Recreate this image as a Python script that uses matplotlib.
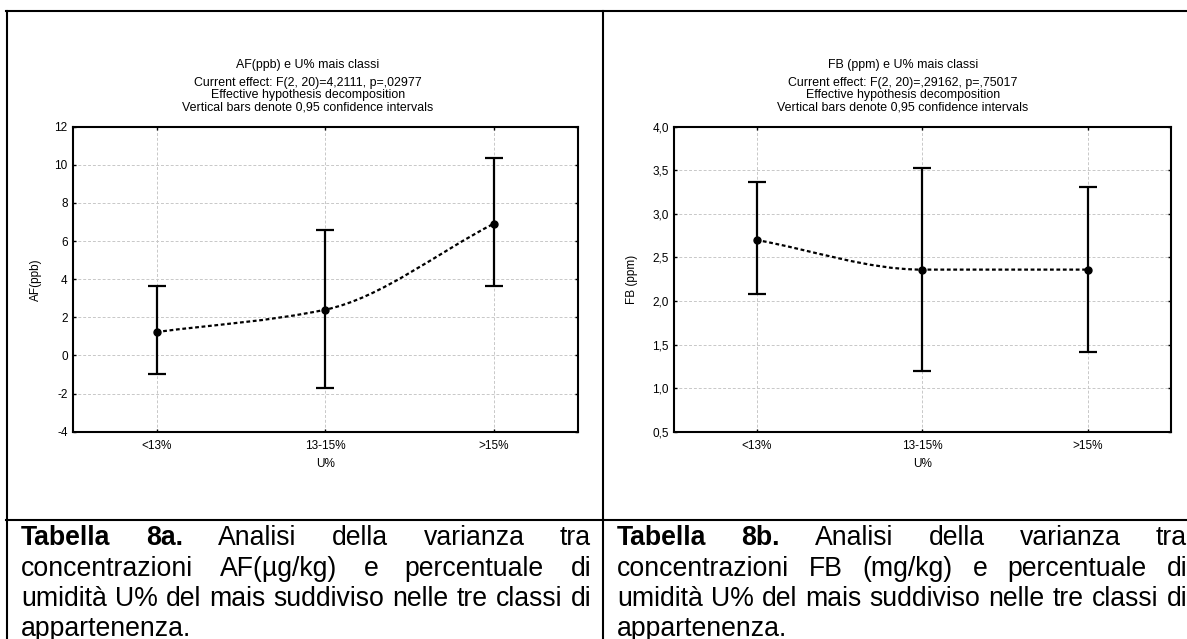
import matplotlib
matplotlib.use('Agg')
import matplotlib.pyplot as plt
from matplotlib.path import Path
from matplotlib.patches import PathPatch
from matplotlib.lines import Line2D
from matplotlib.ticker import FuncFormatter, MultipleLocator

plt.rcParams['font.family'] = ['Liberation Sans', 'DejaVu Sans']

W, H = 1187, 639

# classi di umidità
classes = ['<13%', '13-15%', '>15%']

# AF (ppb): medie e limiti dell'intervallo di confidenza 0,95
af_mean = [1.23, 2.40, 6.91]
af_low = [-0.97, -1.73, 3.62]
af_high = [3.62, 6.56, 10.34]

# FB (ppm): medie e limiti dell'intervallo di confidenza 0,95
fb_mean = [2.70, 2.36, 2.36]
fb_low = [2.08, 1.20, 1.41]
fb_high = [3.36, 3.53, 3.31]

af_title = ['AF(ppb) e U% mais classi',
            'Current effect: F(2, 20)=4,2111, p=,02977',
            'Effective hypothesis decomposition',
            'Vertical bars denote 0,95 confidence intervals']
fb_title = ['FB (ppm) e U% mais classi',
            'Current effect: F(2, 20)=,29162, p=,75017',
            'Effective hypothesis decomposition',
            'Vertical bars denote 0,95 confidence intervals']

caption_a = [
    [('Tabella', True), ('8a.', True), ('Analisi', False), ('della', False),
     ('varianza', False), ('tra', False)],
    [('concentrazioni', False), ('AF(µg/kg)', False), ('e', False),
     ('percentuale', False), ('di', False)],
    [(w, False) for w in 'umidità U% del mais suddiviso nelle tre classi di'.split()],
    [('appartenenza.', False)],
]
caption_b = [
    [('Tabella', True), ('8b.', True), ('Analisi', False), ('della', False),
     ('varianza', False), ('tra', False)],
    [('concentrazioni', False), ('FB', False), ('(mg/kg)', False), ('e', False),
     ('percentuale', False), ('di', False)],
    [(w, False) for w in 'umidità U% del mais suddiviso nelle tre classi di'.split()],
    [('appartenenza.', False)],
]


def fx(px):
    return px / W


def fy(py):
    return 1 - py / H


def smooth_path(xs, ys):
    # curva cubica monotona che passa per le medie
    n = len(xs)
    d = [(ys[i + 1] - ys[i]) / (xs[i + 1] - xs[i]) for i in range(n - 1)]
    m = [d[0]] + [0.0] * (n - 2) + [d[-1]]
    for i in range(1, n - 1):
        if d[i - 1] * d[i] > 0:
            m[i] = 2 * d[i - 1] * d[i] / (d[i - 1] + d[i])
    verts = [(xs[0], ys[0])]
    codes = [Path.MOVETO]
    for i in range(n - 1):
        h = xs[i + 1] - xs[i]
        verts += [(xs[i] + h / 3, ys[i] + m[i] * h / 3),
                  (xs[i + 1] - h / 3, ys[i + 1] - m[i + 1] * h / 3),
                  (xs[i + 1], ys[i + 1])]
        codes += [Path.CURVE4] * 3
    return Path(verts, codes)


def draw_panel(ax, mean, low, high, ylim, step, fmt, ylabel):
    x = list(range(len(classes)))
    ax.set_axisbelow(True)
    ax.grid(True, color='#c8c8c8', linestyle=(0, (3, 2)), linewidth=0.7)
    patch = PathPatch(smooth_path(x, mean), fill=False, edgecolor='black',
                      linewidth=1.6, linestyle=(0, (1.7, 1.2)), zorder=3)
    ax.add_patch(patch)
    err = [[m - l for m, l in zip(mean, low)], [h - m for m, h in zip(mean, high)]]
    ax.errorbar(x, mean, yerr=err, fmt='none', ecolor='black', elinewidth=1.6,
                capsize=6.5, capthick=1.6, zorder=4)
    ax.plot(x, mean, 'o', color='black', markersize=5, zorder=5)
    ax.set_xlim(-0.5, len(classes) - 0.5)
    ax.set_ylim(*ylim)
    ax.set_xticks(x)
    ax.set_xticklabels(classes)
    ax.yaxis.set_major_locator(MultipleLocator(step))
    ax.yaxis.set_major_formatter(FuncFormatter(fmt))
    ax.tick_params(direction='in', length=2.5, width=1, top=True, right=True,
                   labelsize=8.5, colors='black')
    ax.tick_params(axis='y', pad=3.5)
    ax.tick_params(axis='x', pad=6)
    for s in ax.spines.values():
        s.set_linewidth(1.5)
    ax.set_xlabel('U%', fontsize=8.5)
    ax.set_ylabel(ylabel, fontsize=8.5)


fig = plt.figure(figsize=(W / 100, H / 100), dpi=100)

ax1 = fig.add_axes([fx(72.5), fy(431.7), fx(578 - 72.5), (431.7 - 126.7) / H])
ax2 = fig.add_axes([fx(673.7), fy(431.7), fx(1170.5 - 673.7), (431.7 - 126.7) / H])

draw_panel(ax1, af_mean, af_low, af_high, (-4, 12), 2,
           lambda v, p: f'{v:.0f}', 'AF(ppb)')
draw_panel(ax2, fb_mean, fb_low, fb_high, (0.5, 4.0), 0.5,
           lambda v, p: f'{v:.1f}'.replace('.', ','), 'FB (ppm)')

for ax, ylx in ((ax1, 42), (ax2, 638)):
    bb = ax.get_position()
    x0 = bb.x0 * W
    w = bb.width * W
    ax.yaxis.set_label_coords((ylx - x0) / w, 0.5)
    ax.xaxis.set_label_coords(0.5, -0.085)

# titoli dei grafici
for cx, lines in ((308, af_title), (903, fb_title)):
    for ty, txt in zip((65, 82.7, 95, 107), lines):
        fig.text(fx(cx), fy(ty), txt, ha='center', va='center', fontsize=8.9)

# cornice della tabella
lw_frame = 1.5
fig.add_artist(Line2D([fx(6), 1], [fy(11), fy(11)], color='black', lw=lw_frame))
fig.add_artist(Line2D([fx(6.5), fx(6.5)], [0, fy(11)], color='black', lw=lw_frame))
fig.add_artist(Line2D([fx(603), fx(603)], [0, fy(11)], color='black', lw=lw_frame))
fig.add_artist(Line2D([fx(6), 1], [fy(519.5), fy(519.5)], color='black', lw=lw_frame))

# didascalie giustificate
renderer = fig.canvas.get_renderer()
cap_size = 19.2
baselines = [545, 575.5, 606, 635.5]


def draw_caption(lines, x_left, x_right):
    for li, (words, by) in enumerate(zip(lines, baselines)):
        texts = []
        for w, bold in words:
            t = fig.text(0, fy(by), w, fontsize=cap_size, va='baseline', ha='left',
                         fontweight='bold' if bold else 'normal')
            texts.append(t)
        widths = [t.get_window_extent(renderer).width for t in texts]
        last = li == len(lines) - 1
        if last or len(texts) == 1:
            space = cap_size * 0.278 * 100 / 72
        else:
            space = (x_right - x_left - sum(widths)) / (len(texts) - 1)
        xpos = x_left
        for t, wd in zip(texts, widths):
            t.set_x(fx(xpos))
            xpos += wd + space


draw_caption(caption_a, 21, 591)
draw_caption(caption_b, 617, 1187)

fig.savefig('out.png', dpi=100)
